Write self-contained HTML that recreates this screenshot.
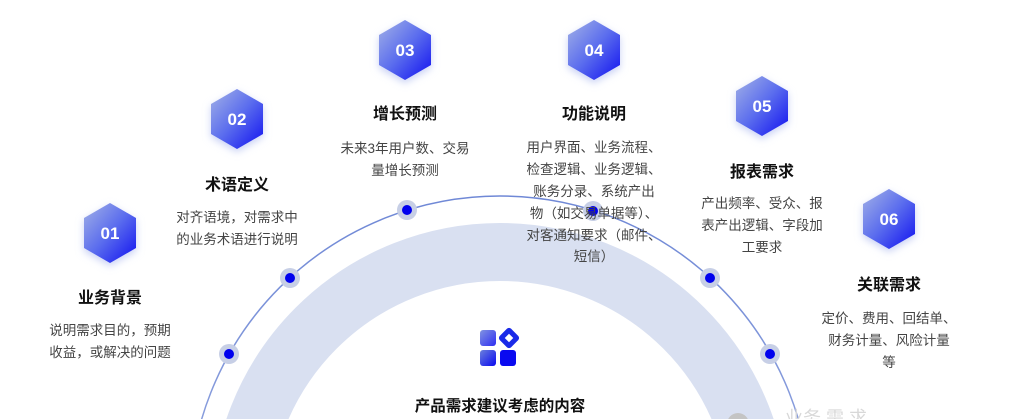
<!DOCTYPE html>
<html><head><meta charset="utf-8"><style>
html,body{margin:0;padding:0;background:#fff;width:1024px;height:419px;overflow:hidden}
svg{display:block}
svg text{font-family:"Liberation Sans","Noto Sans CJK SC",sans-serif}
.t{font-size:16px;font-weight:bold;fill:#111;text-anchor:middle}
.d{font-size:13.5px;fill:#444;text-anchor:middle}
.n{font-size:17px;font-weight:bold;fill:#fff;text-anchor:middle}
</style></head><body>
<svg width="1024" height="419" viewBox="0 0 1024 419" xmlns="http://www.w3.org/2000/svg">
<defs>
<linearGradient id="g" x1="0" y1="0" x2="1" y2="1">
<stop offset="0" stop-color="#a3b2e6"/><stop offset="0.5" stop-color="#5a6cee"/><stop offset="1" stop-color="#1010f0"/>
</linearGradient>
<linearGradient id="arc" x1="0" y1="0" x2="0" y2="1">
<stop offset="0" stop-color="#6f88d6"/><stop offset="0.7" stop-color="#9fb0e2"/><stop offset="1" stop-color="#e2e7f5"/>
</linearGradient>
<filter id="sh" x="-50%" y="-50%" width="200%" height="200%"><feGaussianBlur stdDeviation="4"/></filter>
<g id="hex"><path d="M0,-30 L26,-15 L26,15 L0,30 L-26,15 L-26,-15 Z" stroke-linejoin="round"/></g>
<linearGradient id="ig" x1="0" y1="0" x2="1" y2="1"><stop offset="0" stop-color="#6a7fdc"/><stop offset="1" stop-color="#0a0af0"/></linearGradient>
</defs>
<circle cx="500" cy="512" r="260" fill="none" stroke="#d9e0f1" stroke-width="58"/>
<circle cx="500" cy="507" r="311" fill="none" stroke="url(#arc)" stroke-width="1.5"/>
<g fill="#c7cfe6">
<circle cx="229" cy="354" r="10"/><circle cx="290" cy="278" r="10"/><circle cx="407" cy="210" r="10"/>
<circle cx="593" cy="211" r="10"/><circle cx="710" cy="278" r="10"/><circle cx="770" cy="354" r="10"/>
</g>
<g fill="#0000ee">
<circle cx="229" cy="354" r="5"/><circle cx="290" cy="278" r="5"/><circle cx="407" cy="210" r="5"/>
<circle cx="593" cy="211" r="5"/><circle cx="710" cy="278" r="5"/><circle cx="770" cy="354" r="5"/>
</g>
<circle cx="738" cy="424" r="11" fill="#c4c4c4"/>
<text x="785" y="424" font-size="18" fill="#d8d8d8">业务  需     求</text>
<g>
<g transform="translate(110,233)"><use href="#hex" fill="#c8d0f5" filter="url(#sh)" transform="translate(0,3)"/><use href="#hex" fill="url(#g)"/><text class="n" y="6">01</text></g>
<g transform="translate(237,119)"><use href="#hex" fill="#c8d0f5" filter="url(#sh)" transform="translate(0,3)"/><use href="#hex" fill="url(#g)"/><text class="n" y="6">02</text></g>
<g transform="translate(405,50)"><use href="#hex" fill="#c8d0f5" filter="url(#sh)" transform="translate(0,3)"/><use href="#hex" fill="url(#g)"/><text class="n" y="6">03</text></g>
<g transform="translate(594,50)"><use href="#hex" fill="#c8d0f5" filter="url(#sh)" transform="translate(0,3)"/><use href="#hex" fill="url(#g)"/><text class="n" y="6">04</text></g>
<g transform="translate(762,106)"><use href="#hex" fill="#c8d0f5" filter="url(#sh)" transform="translate(0,3)"/><use href="#hex" fill="url(#g)"/><text class="n" y="6">05</text></g>
<g transform="translate(889,219)"><use href="#hex" fill="#c8d0f5" filter="url(#sh)" transform="translate(0,3)"/><use href="#hex" fill="url(#g)"/><text class="n" y="6">06</text></g>
</g>
<text class="t" x="110" y="303">业务背景</text>
<text class="t" x="237" y="190">术语定义</text>
<text class="t" x="405" y="119">增长预测</text>
<text class="t" x="594" y="119">功能说明</text>
<text class="t" x="762" y="177">报表需求</text>
<text class="t" x="889" y="290">关联需求</text>
<text class="d" x="110" y="335">说明需求目的，预期</text>
<text class="d" x="110" y="357">收益，或解决的问题</text>
<text class="d" x="237" y="222">对齐语境，对需求中</text>
<text class="d" x="237" y="244">的业务术语进行说明</text>
<text class="d" x="405" y="153">未来3年用户数、交易</text>
<text class="d" x="405" y="175">量增长预测</text>
<text class="d" x="594" y="152">用户界面、业务流程、</text>
<text class="d" x="594" y="174">检查逻辑、业务逻辑、</text>
<text class="d" x="594" y="196">账务分录、系统产出</text>
<text class="d" x="594" y="218">物（如交易单据等）、</text>
<text class="d" x="594" y="240">对客通知要求（邮件、</text>
<text class="d" x="594" y="261">短信）</text>
<text class="d" x="762" y="208">产出频率、受众、报</text>
<text class="d" x="762" y="230">表产出逻辑、字段加</text>
<text class="d" x="762" y="252">工要求</text>
<text class="d" x="889" y="323">定价、费用、回结单、</text>
<text class="d" x="889" y="345">财务计量、风险计量</text>
<text class="d" x="889" y="367">等</text>
<rect x="480" y="330" width="16" height="16" rx="3" fill="url(#ig)" opacity="0.85"/>
<rect x="480" y="350" width="16" height="16" rx="3" fill="url(#ig)"/>
<rect x="500" y="350" width="16" height="16" rx="3" fill="#0a0af0"/>
<g transform="translate(509,338) rotate(45)"><rect x="-8" y="-8" width="16" height="16" rx="3" fill="#1a2ae8"/><rect x="-3" y="-3" width="6" height="6" fill="#fff"/></g>
<text x="500" y="411" font-size="15.5" font-weight="bold" fill="#111" text-anchor="middle">产品需求建议考虑的内容</text>
</svg>
</body></html>
